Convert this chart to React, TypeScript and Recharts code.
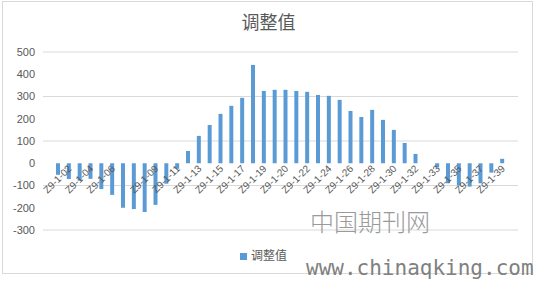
import React from 'react'
import { BarChart, Bar, XAxis, YAxis, CartesianGrid, Legend } from 'recharts'

// categories (42 bars); only every other one carries a visible label
const categories = [
  'Z9-1-01', 'Z9-1-02', 'Z9-1-03', 'Z9-1-04', 'Z9-1-05', 'Z9-1-06', 'Z9-1-07', 'Z9-1-08',
  'Z9-1-08B', 'Z9-1-09', 'Z9-1-10', 'Z9-1-11', 'Z9-1-12', 'Z9-1-13', 'Z9-1-14', 'Z9-1-15',
  'Z9-1-16', 'Z9-1-17', 'Z9-1-18', 'Z9-1-19', 'Z9-1-19B', 'Z9-1-20', 'Z9-1-21', 'Z9-1-22',
  'Z9-1-23', 'Z9-1-24', 'Z9-1-25', 'Z9-1-26', 'Z9-1-27', 'Z9-1-28', 'Z9-1-29', 'Z9-1-30',
  'Z9-1-31', 'Z9-1-32', 'Z9-1-32B', 'Z9-1-33', 'Z9-1-34', 'Z9-1-35', 'Z9-1-36', 'Z9-1-37',
  'Z9-1-38', 'Z9-1-39',
]

const adjustValues = [
  -52, -71, -79, -70, -116, -142, -200, -206, -219, -187, -92, -25,
  55, 123, 172, 222, 258, 294, 442, 325, 330, 330, 325, 321,
  307, 303, 285, 235, 208, 240, 195, 150, 91, 42, 0, -19,
  -90, -99, -105, -90, -42, 20,
]

const tickLabels = [
  'Z9-1-02', 'Z9-1-04', 'Z9-1-06', 'Z9-1-09', 'Z9-1-11', 'Z9-1-13', 'Z9-1-15',
  'Z9-1-17', 'Z9-1-19', 'Z9-1-20', 'Z9-1-22', 'Z9-1-24', 'Z9-1-26', 'Z9-1-28',
  'Z9-1-30', 'Z9-1-32', 'Z9-1-33', 'Z9-1-35', 'Z9-1-37', 'Z9-1-39',
]

const yTicks = [-300, -200, -100, 0, 100, 200, 300, 400, 500]

const data = categories.map((name, i) => ({ name, 调整值: adjustValues[i] }))

const TEXT = '#595959'
const FONT = '"Liberation Sans", Arial, sans-serif'

// plot box
const PLOT_TOP = 52
const PLOT_BOTTOM = 230
const ZERO_Y = PLOT_TOP + ((PLOT_BOTTOM - PLOT_TOP) * 500) / 800

function CategoryTick(props: any) {
  const { x, payload } = props
  if (!tickLabels.includes(payload.value)) return <g />
  const tx = x + 3
  const ty = ZERO_Y + 6
  return (
    <text
      x={tx}
      y={ty}
      transform={`rotate(-45 ${tx} ${ty})`}
      textAnchor="end"
      fontSize={10}
      fill={TEXT}
      fontFamily={FONT}
    >
      {payload.value}
    </text>
  )
}

export default function App() {
  return (
    <div style={{ position: 'absolute', left: 0, top: 0, width: 537, height: 281, background: '#fff', overflow: 'hidden' }}>
      <div
        style={{
          position: 'absolute', left: 2, top: 1, width: 531, height: 273,
          border: '1px solid #d9d9d9', boxSizing: 'border-box',
        }}
      />
      <div
        style={{
          position: 'absolute', left: 0, top: 8, width: 537, textAlign: 'center',
          fontSize: 18, color: TEXT, fontFamily: '"Noto Sans CJK SC", sans-serif',
        }}
      >
        调整值
      </div>
      <div style={{ position: 'absolute', left: 0, top: 0 }}>
        <BarChart
          width={537}
          height={281}
          data={data}
          margin={{ top: PLOT_TOP, right: 19, bottom: 281 - PLOT_BOTTOM - 1, left: 0 }}
        >
          <CartesianGrid vertical={false} stroke="#d9d9d9" />
          <XAxis
            dataKey="name"
            interval={0}
            height={1}
            axisLine={false}
            tickLine={false}
            padding={{ left: 10, right: 10 }}
            tick={<CategoryTick />}
          />
          <YAxis
            width={43}
            domain={[-300, 500]}
            ticks={yTicks}
            axisLine={false}
            tickLine={false}
            tickMargin={2}
            tick={{ fill: TEXT, fontSize: 11, fontFamily: FONT }}
          />
          <Legend
            verticalAlign="middle"
            align="center"
            iconType="square"
            iconSize={7}
            wrapperStyle={{ top: 246, left: 0, width: 537, fontSize: 12, color: TEXT, fontFamily: '"Noto Sans CJK SC", sans-serif' }}
            formatter={(v: string) => <span style={{ color: TEXT }}>{v}</span>}
          />
          <Bar dataKey="调整值" fill="#5b9bd5" barSize={4} isAnimationActive={false} />
        </BarChart>
      </div>
      <div
        style={{
          position: 'absolute', left: 310, top: 206, fontSize: 24, lineHeight: '30px',
          color: '#9a9a9a', fontFamily: '"Noto Sans CJK SC", sans-serif', fontWeight: 300,
          letterSpacing: 0,
        }}
      >
        中国期刊网
      </div>
      <div
        style={{
          position: 'absolute', left: 306, top: 254, fontSize: 21, lineHeight: '28px',
          color: '#808080', fontFamily: '"DejaVu Sans Mono", monospace', whiteSpace: 'nowrap',
        }}
      >
        www.chinaqking.com
      </div>
    </div>
  )
}
